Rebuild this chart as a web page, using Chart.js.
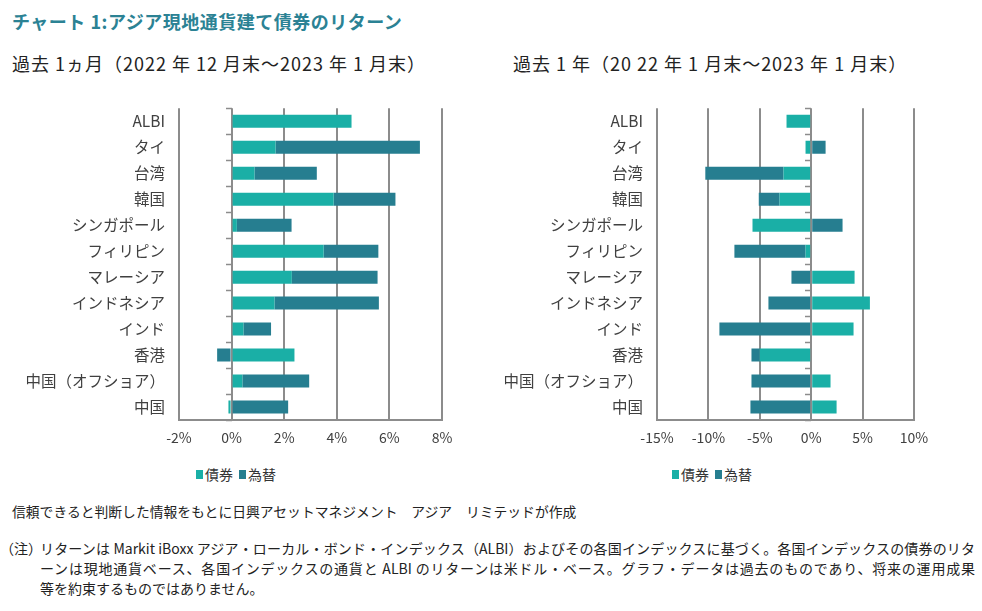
<!DOCTYPE html>
<html><head><meta charset="utf-8">
<script src="https://cdn.jsdelivr.net/npm/chart.js@4"></script>
<style>
body{margin:0;background:#fff;width:982px;height:611px;position:relative;overflow:hidden;font-family:"Noto Sans CJK JP","Noto Sans",sans-serif;color:#222}
.abs{position:absolute;white-space:nowrap;line-height:1}
#title{left:12px;top:12px;font-size:18px;font-weight:bold;color:#2B8294;letter-spacing:0.5px}
.sub{top:54px;font-size:18px;color:#222;letter-spacing:1px}
canvas{position:absolute}
.legend{position:absolute;top:466px;font-size:14px;line-height:16px;color:#333;display:flex;align-items:center;white-space:nowrap}
.legend .box{display:inline-block;width:7px;height:9px;margin-right:2px}
.legend .item{display:flex;align-items:center;margin-right:6px}
.txt{font-size:14px;color:#222}
#src{font-size:13.8px}
.line{width:935px;text-align:justify;text-align-last:justify}
</style></head>
<body>
<div id="title" class="abs"></div>
<div id="subL" class="abs sub" style="left:12px"></div>
<div id="subR" class="abs sub" style="left:513px"></div>
<canvas id="cL" width="490" height="370" style="left:0;top:85px"></canvas>
<canvas id="cR" width="460" height="370" style="left:490px;top:85px"></canvas>
<div id="legL" class="legend" style="left:196px"></div>
<div id="legR" class="legend" style="left:672px"></div>
<div id="src" class="abs txt" style="left:12px;top:505px"></div>
<div class="abs txt" style="left:0;top:541px">（注）</div>
<div id="n1" class="abs txt line" style="left:40px;top:541px"></div>
<div id="n2" class="abs txt line" style="left:40px;top:561px"></div>
<div id="n3" class="abs txt" style="left:40px;top:581px"></div>
<script>
const titleText = 'チャート 1:アジア現地通貨建て債券のリターン';
const subtitleMonth = '過去 1ヵ月（2022 年 12 月末～2023 年 1 月末）';
const subtitleYear = '過去 1 年（20 22 年 1 月末～2023 年 1 月末）';
const categories = ['ALBI','タイ','台湾','韓国','シンガポール','フィリピン','マレーシア','インドネシア','インド','香港','中国（オフショア）','中国'];
const seriesNames = ['債券','為替'];
const bondMonth = [4.56, 1.67, 0.87, 3.88, 0.20, 3.50, 2.29, 1.63, 0.45, 2.39, 0.41, -0.12];
const fxMonth   = [null, 5.49, 2.37, 2.35, 2.08, 2.08, 3.26, 3.97, 1.05, -0.55, 2.54, 2.15];
const bondYear  = [-2.40, -0.55, -2.70, -3.08, -5.71, -0.55, 4.22, 5.71, 4.12, -5.00, 1.88, 2.47];
const fxYear    = [null, 1.40, -7.60, -2.02, 3.05, -6.92, -1.92, -4.16, -8.93, -0.81, -5.81, -5.91];
const monthTicks = [-2, 0, 2, 4, 6, 8];
const yearTicks = [-15, -10, -5, 0, 5, 10];
const sourceText = '信頼できると判断した情報をもとに日興アセットマネジメント　アジア　リミテッドが作成';
const noteLines = [
  'リターンは Markit iBoxx アジア・ローカル・ボンド・インデックス（ALBI）およびその各国インデックスに基づく。各国インデックスの債券のリタ',
  'ーンは現地通貨ベース、各国インデックスの通貨と ALBI のリターンは米ドル・ベース。グラフ・データは過去のものであり、将来の運用成果',
  '等を約束するものではありません。'
];

const colors = ['#1AAFA6', '#267E90'];
const FONT = '"Noto Sans CJK JP","Noto Sans",sans-serif';
const GRID = '#8c8c8c';

document.getElementById('title').textContent = titleText;
document.getElementById('subL').textContent = subtitleMonth;
document.getElementById('subR').textContent = subtitleYear;
document.getElementById('src').textContent = sourceText;
['n1','n2','n3'].forEach((id,i)=>document.getElementById(id).textContent = noteLines[i]);
['legL','legR'].forEach(id=>{
  const el = document.getElementById(id);
  seriesNames.forEach((n,i)=>{
    const it = document.createElement('span'); it.className='item';
    const b = document.createElement('span'); b.className='box'; b.style.background=colors[i];
    it.appendChild(b); it.appendChild(document.createTextNode(n)); el.appendChild(it);
  });
});

const zeroTicks = {
  id:'zeroTicks',
  afterDatasetsDraw(chart){
    const {ctx, scales:{x, y}} = chart;
    const x0 = Math.round(x.getPixelForValue(0));
    ctx.save();
    ctx.strokeStyle = GRID; ctx.lineWidth = 1.5;
    for (let i = 0; i <= categories.length; i++) {
      const yy = Math.round(y.getPixelForValue(i - 0.5)) + 0.5;
      ctx.beginPath(); ctx.moveTo(x0 - 6, yy); ctx.lineTo(x0, yy); ctx.stroke();
    }
    ctx.restore();
  }
};

function makeChart(id, bond, fx, ticks, yWidth, padRight) {
  const step = ticks[1] - ticks[0];
  return new Chart(document.getElementById(id), {
    type: 'bar',
    data: {
      labels: categories,
      datasets: [
        {label: seriesNames[0], data: bond, backgroundColor: colors[0], barPercentage: 0.5, categoryPercentage: 1},
        {label: seriesNames[1], data: fx, backgroundColor: colors[1], barPercentage: 0.5, categoryPercentage: 1}
      ]
    },
    options: {
      indexAxis: 'y', responsive: false, animation: false, devicePixelRatio: 1,
      layout: {padding: {top: 3, right: padRight, left: 0, bottom: 0}},
      plugins: {legend: {display: false}, tooltip: {enabled: false}},
      scales: {
        x: {
          stacked: true, min: ticks[0], max: ticks[ticks.length - 1],
          grid: {color: GRID, lineWidth: 2, drawTicks: false},
          border: {color: GRID, width: 2},
          ticks: {stepSize: step, callback: v => v + '%', font: {size: 14, family: FONT}, color: '#404040', padding: 9},
          afterFit: s => { s.height = 35; }
        },
        y: {
          stacked: true,
          grid: {display: false, drawTicks: false},
          border: {display: false},
          ticks: {font: {size: 15.5, family: FONT}, color: '#404040', padding: 14},
          afterFit: s => { s.width = yWidth; }
        }
      }
    },
    plugins: [zeroTicks]
  });
}
makeChart('cL', bondMonth, fxMonth, monthTicks, 179, 48);
makeChart('cR', bondYear, fxYear, yearTicks, 167, 36);
</script>
</body></html>
